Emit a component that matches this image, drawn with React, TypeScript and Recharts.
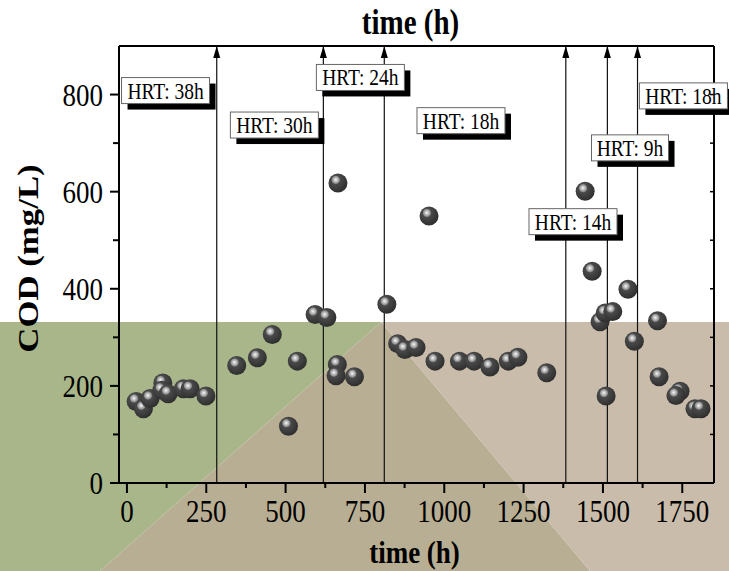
import { ScatterChart, Scatter, XAxis, YAxis, ReferenceLine, ReferenceDot } from "recharts";

// sampling time (h) and effluent COD (mg/L)
const timeH = [
  29, 52, 73, 113, 110, 130, 178, 199, 249, 346, 411, 458, 509, 537, 593, 630,
  663, 659, 717, 665, 819, 853, 876, 911, 971, 952, 1048, 1094, 1144, 1202,
  1232, 1323, 1444, 1466, 1491, 1507, 1531, 1510, 1579, 1599, 1672, 1677, 1743,
  1730, 1790, 1809,
];
const codMgL = [
  168, 153, 174, 206, 191, 184, 194, 194, 179, 242, 258, 306, 117, 251, 347, 341,
  244, 221, 219, 618, 368, 287, 275, 279, 251, 550, 251, 251, 239, 251,
  259, 227, 601, 436, 332, 350, 353, 179, 399, 292, 334, 219, 189,
  180, 153, 153,
];

// times where the HRT was changed
const hrtChangeTimes = [283, 619, 811, 1383, 1514, 1609];

// HRT annotations
const hrtLabels = ["HRT: 38h", "HRT: 30h", "HRT: 24h", "HRT: 18h", "HRT: 14h", "HRT: 9h", "HRT: 18h"];
const hrtLabelTime = [-17, 326, 597, 914, 1267, 1464, 1615];
const hrtLabelCod = [835, 764, 862, 773, 565, 717, 824];

const xTicks = [0, 125, 250, 375, 500, 625, 750, 875, 1000, 1125, 1250, 1375, 1500, 1625, 1750];
const yTicks = [0, 100, 200, 300, 400, 500, 600, 700, 800];

const data = timeH.map((t, i) => ({ t, cod: codMgL[i] }));

const FONT = "'Liberation Serif', 'Times New Roman', serif";
const STRETCH = 1.2; // the original figure is a bit taller than wide

const Txt = ({ x, y, size, bold, anchor = "middle", rotate, children }: any) => (
  <text
    transform={`translate(${x},${y}) scale(1,${STRETCH})${rotate ? " rotate(-90)" : ""}`}
    textAnchor={anchor}
    fontFamily={FONT}
    fontSize={size}
    fontWeight={bold ? "bold" : "normal"}
    fill="#000"
  >
    {children}
  </text>
);

const BottomTick = ({ x, y, payload }: any) => {
  const major = payload.value % 250 === 0;
  return (
    <g>
      <line x1={x} y1={y} x2={x} y2={y + (major ? 10 : 5)} stroke="#000" strokeWidth={2} />
      {major && (
        <Txt x={x} y={y + 39} size={27}>
          {payload.value}
        </Txt>
      )}
    </g>
  );
};

const TopTick = ({ x, y }: any) => (
  <line x1={x} y1={y} x2={x} y2={y + 4} stroke="#000" strokeWidth={1.5} />
);

const LeftTick = ({ x, y, payload }: any) => {
  const major = payload.value % 200 === 0;
  return (
    <g>
      <line x1={x} y1={y} x2={x - (major ? 9 : 6)} y2={y} stroke="#000" strokeWidth={2} />
      {major && (
        <Txt x={x - 16} y={y + 11} size={27} anchor="end">
          {payload.value}
        </Txt>
      )}
    </g>
  );
};

const RightTick = ({ x, y }: any) => (
  <line x1={x} y1={y} x2={x - 4} y2={y} stroke="#000" strokeWidth={1.5} />
);

const Sphere = ({ cx, cy }: any) => {
  if (cx == null || cy == null) return null;
  return <circle cx={cx} cy={cy} r={9.5} fill="url(#sphereGrad)" />;
};

const ArrowHead = ({ viewBox }: any) => {
  if (!viewBox) return null;
  const { x, y } = viewBox;
  return <polygon points={`${x},${y} ${x - 3.5},${y + 12} ${x + 3.5},${y + 12}`} fill="#000" />;
};

const HrtBox = ({ cx, cy, text }: any) => {
  if (cx == null || cy == null) return null;
  const w = text.length * 11;
  const h = 26;
  return (
    <g>
      <rect x={cx + 6} y={cy + 6} width={w} height={h} fill="#000" />
      <rect x={cx} y={cy} width={w} height={h} fill="#fff" stroke="#666" strokeWidth={1} />
      <Txt x={cx + w / 2} y={cy + 21} size={19.5}>
        {text}
      </Txt>
    </g>
  );
};

export default function App() {
  return (
    <div style={{ position: "absolute", left: 0, top: 0, width: 729, height: 571, background: "#fff", overflow: "hidden" }}>
      <svg width={729} height={571} style={{ position: "absolute", left: 0, top: 0 }}>
        <polygon points="0,322 381,322 100,571 0,571" fill="#a8b68a" />
        <polygon points="381,322 100,571 590,571" fill="#b8ae93" />
        <polygon points="381,322 729,322 729,571 590,571" fill="#c9bcaa" />
      </svg>
      <div style={{ position: "absolute", left: 0, top: 0 }}>
        <ScatterChart width={729} height={571} margin={{ top: 45, right: 14, bottom: 0, left: 0 }}>
          <defs>
            <radialGradient id="sphereGrad" cx="0.4" cy="0.36" r="0.62" fx="0.38" fy="0.33">
              <stop offset="0" stopColor="#f6f6f6" />
              <stop offset="0.12" stopColor="#cfcfcf" />
              <stop offset="0.3" stopColor="#8e8e8e" />
              <stop offset="0.38" stopColor="#4a4a4a" />
              <stop offset="1" stopColor="#303030" />
            </radialGradient>
          </defs>
          <XAxis
            xAxisId="bottom"
            dataKey="t"
            type="number"
            orientation="bottom"
            domain={[-25, 1850]}
            ticks={xTicks}
            interval={0}
            height={88}
            tickSize={0}
            tickMargin={0}
            tickLine={false}
            tick={(p: any) => <BottomTick {...p} />}
            axisLine={{ stroke: "#000", strokeWidth: 2 }}
            allowDataOverflow
            label={{
              content: ({ viewBox }: any) => (
                <Txt x={viewBox.x + viewBox.width / 2 - 2} y={563} size={27} bold>
                  time (h)
                </Txt>
              ),
            }}
          />
          <XAxis
            xAxisId="top"
            type="number"
            orientation="top"
            domain={[-25, 1850]}
            ticks={xTicks}
            interval={0}
            height={1}
            tickSize={0}
            tickMargin={0}
            tickLine={false}
            tick={(p: any) => <TopTick {...p} />}
            axisLine={{ stroke: "#000", strokeWidth: 2 }}
            allowDataOverflow
            label={{
              content: ({ viewBox }: any) => (
                <Txt x={viewBox.x + viewBox.width / 2 - 6} y={34} size={29} bold>
                  time (h)
                </Txt>
              ),
            }}
          />
          <YAxis
            yAxisId="left"
            dataKey="cod"
            type="number"
            domain={[0, 900]}
            ticks={yTicks}
            interval={0}
            width={119}
            tickSize={0}
            tickMargin={0}
            tickLine={false}
            tick={(p: any) => <LeftTick {...p} />}
            axisLine={{ stroke: "#000", strokeWidth: 2 }}
            allowDataOverflow
            label={{
              content: ({ viewBox }: any) => (
                <Txt x={38} y={viewBox.y + viewBox.height / 2 - 6} size={29} bold rotate>
                  COD (mg/L)
                </Txt>
              ),
            }}
          />
          <YAxis
            yAxisId="right"
            orientation="right"
            type="number"
            domain={[0, 900]}
            ticks={yTicks}
            interval={0}
            width={1}
            tickSize={0}
            tickMargin={0}
            tickLine={false}
            tick={(p: any) => <RightTick {...p} />}
            axisLine={{ stroke: "#000", strokeWidth: 2 }}
            allowDataOverflow
          />
          {hrtChangeTimes.map((t) => (
            <ReferenceLine
              key={t}
              xAxisId="bottom"
              yAxisId="left"
              x={t}
              stroke="#111"
              strokeWidth={1.2}
              label={(p: any) => <ArrowHead {...p} />}
            />
          ))}
          <Scatter
            xAxisId="bottom"
            yAxisId="left"
            data={data}
            shape={(p: any) => <Sphere {...p} />}
            isAnimationActive={false}
          />
          {hrtLabels.map((text, i) => (
            <ReferenceDot
              key={i}
              xAxisId="bottom"
              yAxisId="left"
              x={hrtLabelTime[i]}
              y={hrtLabelCod[i]}
              r={0}
              ifOverflow="visible"
              shape={(p: any) => <HrtBox cx={p.cx} cy={p.cy} text={text} />}
            />
          ))}
        </ScatterChart>
      </div>
    </div>
  );
}
